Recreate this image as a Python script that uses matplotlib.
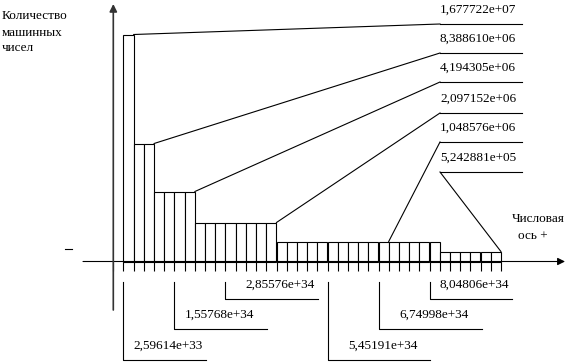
import matplotlib
matplotlib.use("Agg")
import matplotlib.pyplot as plt

# ---- data ----
group_counts = [1, 2, 4, 8, 16, 6]
group_heights = [227, 118, 70, 39, 20, 10]
group_labels = ["1,677722e+07", "8,388610e+06", "4,194305e+06",
                "2,097152e+06", "1,048576e+06", "5,242881e+05"]
axis_labels = ["2,59614e+33", "1,55768e+34", "2,85576e+34",
               "5,45191e+34", "6,74998e+34", "8,04806e+34"]
axis_label_pos = [1, 6, 11, 21, 26, 31]
leader_anchor = [2, 4, 8, 16, 27, 38]

# ---- layout (pixels) ----
W, H, DPI = 580, 364, 100
X0, DX, Y0 = 113.3, 10.2, 261.5


def px(x):
    return (x - X0) / DX


def py(y):
    return Y0 - y


FONT = "Liberation Serif"
FS = 9.5
LW = 0.8

fig = plt.figure(figsize=(W / DPI, H / DPI), dpi=DPI)
ax = fig.add_axes([0, 0, 1, 1])
ax.set_xlim(px(0), px(W))
ax.set_ylim(py(H), py(0))
ax.axis("off")

# bars
lefts, heights = [], []
k = 1
for n, h in zip(group_counts, group_heights):
    for _ in range(n):
        lefts.append(k)
        heights.append(h)
        k += 1
ax.bar(lefts, heights, width=1, align="edge", facecolor="white",
       edgecolor="black", linewidth=LW, zorder=2)

# ticks below axis
ax.vlines(range(0, k + 1), py(261.5), py(271), color="black", lw=LW)

# axes arrows
ax.annotate("", xy=(px(565), 0), xytext=(px(83), 0),
            arrowprops=dict(arrowstyle="-|>", mutation_scale=11, lw=LW,
                            color="black", shrinkA=0, shrinkB=0), zorder=3)
ax.annotate("", xy=(0, py(4)), xytext=(0, py(310)),
            arrowprops=dict(arrowstyle="-|>", mutation_scale=11, lw=1.2,
                            color="#333333", shrinkA=0, shrinkB=0), zorder=3)

# right-side labels with leaders
line_y = [24, 53, 82, 113, 142, 172]
for lab, h, anc, ly in zip(group_labels, group_heights, leader_anchor, line_y):
    ax.plot([anc, px(440)], [h, py(ly)], color="black", lw=LW, zorder=3)
    ax.plot([px(440), px(522)], [py(ly), py(ly)], color="black", lw=LW)
    ax.text(px(440), py(ly - 11.5), lab, fontsize=FS, family=FONT,
            ha="left", va="baseline")

# bottom labels with leaders
bot_y = [360, 329, 299, 360, 329, 299]
bot_end = [206, 267, 318, 430, 482, 512]
text_x = [133, 185, 245, 348, 399, 440]
for lab, pos, by, be, tx in zip(axis_labels, axis_label_pos, bot_y, bot_end, text_x):
    ax.plot([pos, pos, px(be)], [py(282), py(by), py(by)], color="black", lw=LW)
    ax.text(px(tx), py(by - 11), lab, fontsize=FS, family=FONT,
            ha="left", va="baseline")

# axis titles
ax.text(px(2), py(19), "Количество", fontsize=FS, family=FONT, va="baseline")
ax.text(px(2), py(36), "машинных", fontsize=FS, family=FONT, va="baseline")
ax.text(px(2), py(51), "чисел", fontsize=FS, family=FONT, va="baseline")
ax.text(px(512), py(222), "Числовая", fontsize=FS, family=FONT, va="baseline")
ax.text(px(518), py(239), "ось +", fontsize=FS, family=FONT, va="baseline")
ax.plot([px(65), px(72)], [py(249), py(249)], color="black", lw=LW)

fig.savefig("out.png", dpi=DPI, facecolor="white")
